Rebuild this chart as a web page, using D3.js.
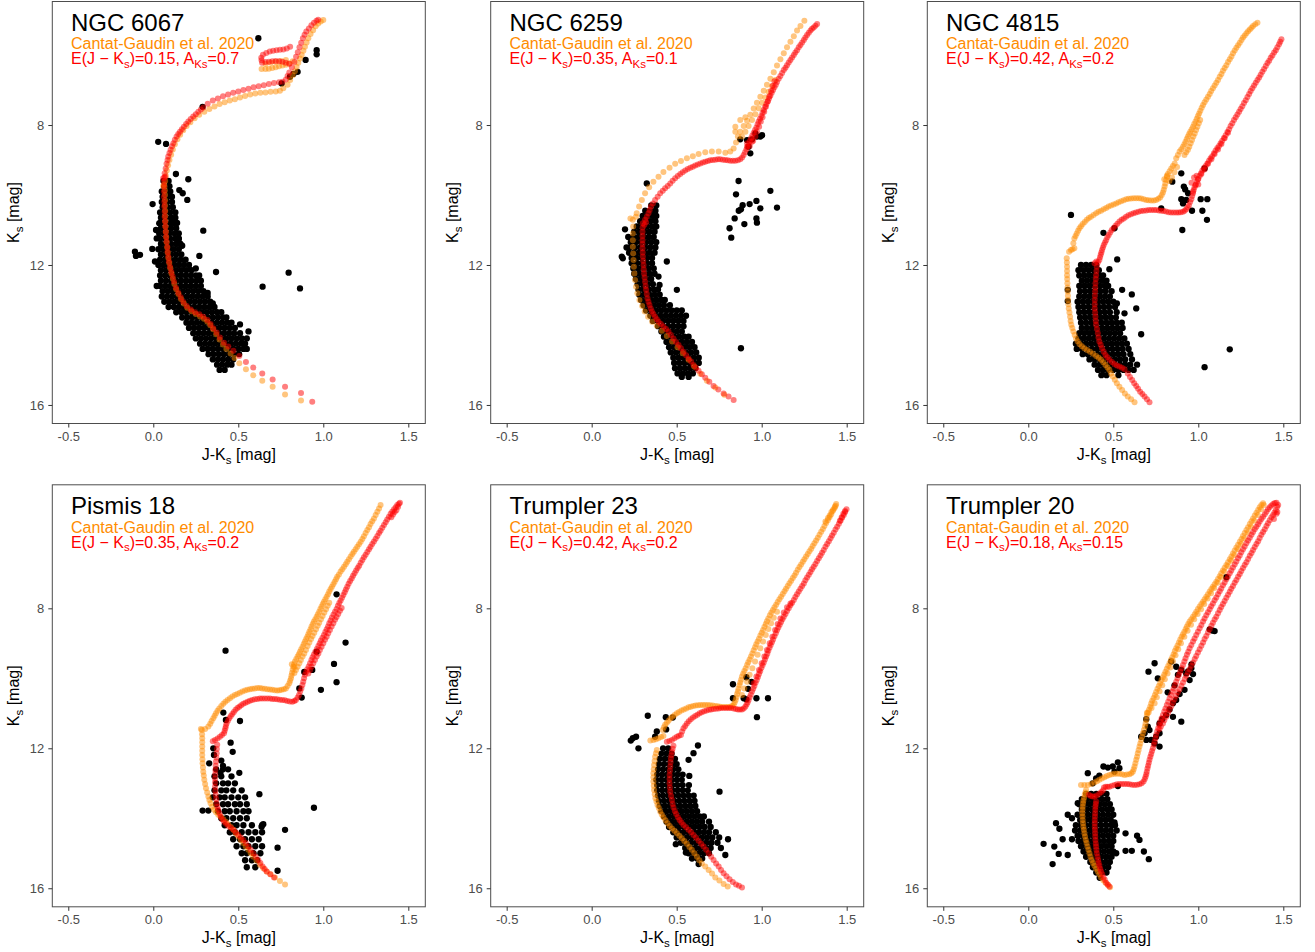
<!DOCTYPE html>
<html><head><meta charset="utf-8">
<script src="https://cdn.jsdelivr.net/npm/d3@7"></script>
<style>body{margin:0;background:#fff}text{font-family:Arial,"Liberation Sans",sans-serif}</style>
</head><body><svg id="c" width="1315" height="952"></svg>
<script>
// ---------- labels ----------
const clusterNames = ["NGC 6067","NGC 6259","NGC 4815","Pismis 18","Trumpler 23","Trumpler 20"];
const ejkValues = ["0.15","0.35","0.42","0.35","0.42","0.18"];
const aksValues = ["0.7","0.1","0.2","0.2","0.2","0.15"];
const xTicks = [-0.5,0,0.5,1,1.5];
const yTicks = [8,12,16];
const refLabel = "Cantat-Gaudin et al. 2020";

// ---------- isochrones (flat: J-Ks, Ks, ...) ----------
const cg6067 = [0.869,15.87,0.775,15.70,0.702,15.48,0.641,15.31,0.588,15.15,0.545,14.98,0.506,14.81,0.478,14.66,0.455,14.53,0.43,14.40,0.41,14.27,0.39,14.13,0.37,13.98,0.352,13.84,0.335,13.72,0.318,13.62,0.298,13.54,0.275,13.47,0.25,13.40,0.225,13.32,0.2,13.22,0.18,13.10,0.163,12.97,0.148,12.83,0.135,12.69,0.124,12.54,0.115,12.39,0.107,12.24,0.1,12.09,0.094,11.94,0.089,11.80,0.085,11.65,0.082,11.50,0.079,11.35,0.076,11.20,0.074,11.05,0.072,10.90,0.071,10.75,0.07,10.60,0.07,10.45,0.069,10.30,0.069,10.15,0.069,10.00,0.068,9.87,0.066,9.76,0.058,9.74,0.064,9.70,0.07,9.6,0.074,9.45,0.08,9.30,0.087,9.15,0.095,9.00,0.105,8.85,0.115,8.70,0.127,8.55,0.142,8.41,0.158,8.28,0.176,8.15,0.196,8.03,0.218,7.92,0.243,7.81,0.27,7.71,0.3,7.62,0.33,7.54,0.36,7.47,0.39,7.40,0.42,7.35,0.45,7.30,0.48,7.26,0.51,7.21,0.54,7.17,0.57,7.13,0.6,7.10,0.63,7.08,0.66,7.07,0.69,7.05,0.72,7.04,0.745,7.02,0.765,6.95,0.79,6.85,0.805,6.71,0.82,6.58,0.833,6.46,0.843,6.34,0.853,6.22,0.863,6.10,0.873,6.00,0.883,5.88,0.892,5.76,0.902,5.64,0.912,5.52,0.925,5.40,0.94,5.29,0.955,5.18,0.97,5.10,0.985,5.04,1.0,5.0,0.637,6.40,0.66,6.40,0.68,6.39,0.70,6.37,0.72,6.35,0.74,6.32,0.76,6.30,0.78,6.28,0.80,6.24,0.82,6.18,0.66,6.25,0.69,6.21,0.72,6.19,0.75,6.17,0.78,6.14];
const fit6067 = [0.935,15.91,0.869,15.66,0.775,15.48,0.702,15.27,0.641,15.10,0.588,14.93,0.545,14.77,0.506,14.60,0.471,14.45,0.441,14.33,0.416,14.22,0.392,14.07,0.373,13.93,0.353,13.81,0.337,13.69,0.318,13.57,0.294,13.48,0.271,13.41,0.245,13.35,0.220,13.27,0.196,13.17,0.176,13.05,0.161,12.92,0.147,12.79,0.133,12.65,0.122,12.48,0.114,12.33,0.106,12.19,0.098,12.05,0.092,11.90,0.088,11.76,0.084,11.62,0.082,11.48,0.078,11.33,0.075,11.19,0.073,11.05,0.071,10.90,0.069,10.76,0.067,10.62,0.067,10.48,0.065,10.33,0.065,10.19,0.063,10.05,0.063,9.90,0.063,9.76,0.063,9.62,0.058,9.52,0.065,9.50,0.07,9.48,0.067,9.38,0.073,9.24,0.078,9.11,0.084,9.00,0.088,8.90,0.095,8.80,0.102,8.71,0.11,8.61,0.118,8.52,0.127,8.42,0.137,8.33,0.147,8.26,0.157,8.19,0.168,8.12,0.180,8.05,0.193,7.97,0.206,7.90,0.22,7.83,0.235,7.76,0.25,7.69,0.265,7.62,0.28,7.56,0.294,7.50,0.32,7.39,0.35,7.30,0.38,7.24,0.41,7.18,0.44,7.13,0.47,7.08,0.50,7.04,0.53,7.00,0.56,6.96,0.59,6.92,0.62,6.89,0.65,6.86,0.68,6.83,0.71,6.80,0.74,6.78,0.76,6.76,0.78,6.70,0.79,6.60,0.80,6.50,0.815,6.35,0.83,6.20,0.84,6.05,0.85,5.92,0.86,5.78,0.87,5.65,0.88,5.52,0.89,5.42,0.90,5.33,0.915,5.24,0.93,5.15,0.945,5.08,0.96,5.02,0.97,4.99,0.645,5.99,0.665,5.94,0.685,5.90,0.705,5.88,0.725,5.86,0.745,5.85,0.765,5.84,0.785,5.81,0.805,5.76,0.64,6.22,0.66,6.20,0.68,6.19,0.70,6.18,0.72,6.17,0.74,6.18,0.76,6.19,0.78,6.22,0.80,6.25,0.635,6.08,0.637,6.15];

const cg6259 = [0.780,15.71,0.727,15.50,0.678,15.31,0.639,15.11,0.603,14.90,0.570,14.71,0.536,14.52,0.505,14.35,0.473,14.19,0.442,14.03,0.413,13.88,0.383,13.74,0.356,13.62,0.332,13.48,0.312,13.33,0.297,13.17,0.281,13.0,0.269,12.81,0.261,12.62,0.255,12.43,0.251,12.24,0.248,12.05,0.246,11.86,0.244,11.67,0.242,11.48,0.242,11.29,0.242,11.10,0.244,10.90,0.242,10.71,0.228,10.67,0.26,10.62,0.265,10.52,0.279,10.33,0.295,10.14,0.314,9.95,0.338,9.78,0.363,9.62,0.393,9.48,0.422,9.34,0.458,9.22,0.491,9.11,0.525,9.03,0.560,8.95,0.595,8.89,0.629,8.83,0.668,8.78,0.707,8.76,0.747,8.76,0.786,8.79,0.815,8.76,0.835,8.67,0.849,8.50,0.860,8.33,0.874,8.19,0.894,8.03,0.914,7.88,0.933,7.71,0.953,7.53,0.972,7.36,0.992,7.19,1.012,7.02,1.031,6.85,1.051,6.68,1.071,6.49,1.090,6.30,1.110,6.12,1.130,5.95,1.149,5.78,1.169,5.62,1.189,5.46,1.208,5.30,1.228,5.17,1.251,5.02,0.845,8.05,0.845,8.19,0.884,8.33,0.904,8.19,0.923,8.03,0.943,7.86,0.963,7.69,0.982,7.52,1.002,7.36,1.022,7.21,1.041,7.05,1.061,6.89,1.081,6.71,0.874,7.86,0.904,7.78];
const fit6259 = [0.835,15.86,0.805,15.76,0.776,15.67,0.745,15.56,0.717,15.46,0.692,15.34,0.668,15.22,0.648,15.12,0.629,15.02,0.614,14.94,0.599,14.86,0.585,14.76,0.570,14.67,0.555,14.58,0.540,14.48,0.525,14.38,0.511,14.29,0.496,14.20,0.481,14.10,0.466,14.00,0.452,13.90,0.437,13.83,0.422,13.76,0.407,13.69,0.393,13.62,0.383,13.55,0.373,13.48,0.363,13.40,0.354,13.33,0.347,13.24,0.340,13.14,0.334,13.05,0.328,12.95,0.324,12.83,0.320,12.71,0.317,12.60,0.314,12.48,0.311,12.36,0.308,12.24,0.306,12.12,0.305,12.0,0.303,11.88,0.301,11.76,0.300,11.64,0.299,11.52,0.299,11.40,0.299,11.29,0.299,11.17,0.299,11.05,0.300,10.93,0.301,10.81,0.31,10.85,0.32,10.78,0.314,10.71,0.324,10.62,0.334,10.52,0.341,10.43,0.348,10.33,0.36,10.24,0.373,10.14,0.388,10.05,0.403,9.95,0.418,9.88,0.432,9.81,0.447,9.74,0.462,9.67,0.476,9.59,0.491,9.52,0.506,9.46,0.521,9.40,0.535,9.35,0.550,9.30,0.565,9.26,0.580,9.22,0.595,9.19,0.609,9.16,0.624,9.13,0.639,9.10,0.654,9.07,0.668,9.05,0.683,9.03,0.697,9.01,0.712,9.0,0.727,8.99,0.742,8.98,0.756,8.98,0.771,8.99,0.786,9.00,0.80,9.01,0.815,9.02,0.83,9.02,0.845,9.02,0.86,9.01,0.874,8.98,0.885,8.93,0.894,8.86,0.902,8.78,0.910,8.70,0.917,8.62,0.923,8.54,0.930,8.46,0.937,8.38,0.945,8.30,0.953,8.22,0.961,8.14,0.969,8.07,0.976,7.98,0.982,7.90,0.990,7.82,0.998,7.74,1.005,7.65,1.012,7.57,1.020,7.48,1.028,7.40,1.036,7.32,1.043,7.24,1.051,7.16,1.059,7.08,1.067,7.0,1.075,6.92,1.083,6.85,1.090,6.77,1.100,6.68,1.110,6.60,1.120,6.51,1.130,6.43,1.140,6.36,1.149,6.29,1.159,6.21,1.169,6.14,1.179,6.07,1.189,6.0,1.198,5.93,1.208,5.86,1.218,5.78,1.228,5.71,1.238,5.64,1.248,5.57,1.257,5.50,1.267,5.43,1.277,5.36,1.287,5.30,1.296,5.25,1.306,5.21,1.316,5.16,1.326,5.11,0.914,8.52,0.943,8.48,0.963,8.33,0.972,8.19,0.914,8.62,0.93,8.60,0.95,8.45,0.985,8.05,0.995,7.90,1.005,7.78,1.015,7.62,1.025,7.48,1.035,7.33,1.045,7.18,1.055,7.03,1.065,6.88,1.075,6.75];

const cg4815 = [0.625,15.92,0.605,15.84,0.585,15.76,0.568,15.67,0.552,15.57,0.536,15.48,0.521,15.38,0.509,15.28,0.497,15.19,0.487,15.10,0.477,15.0,0.466,14.93,0.454,14.86,0.441,14.78,0.428,14.71,0.414,14.65,0.399,14.6,0.381,14.54,0.363,14.48,0.346,14.43,0.330,14.38,0.315,14.32,0.301,14.26,0.29,14.18,0.281,14.10,0.273,14.0,0.265,13.90,0.259,13.80,0.253,13.71,0.249,13.60,0.246,13.48,0.242,13.36,0.238,13.24,0.236,13.12,0.234,13.0,0.233,12.88,0.232,12.76,0.231,12.64,0.230,12.52,0.229,12.40,0.228,12.29,0.228,12.17,0.228,12.05,0.227,11.93,0.226,11.81,0.24,11.62,0.251,11.57,0.271,11.52,0.26,11.55,0.265,11.38,0.271,11.24,0.278,11.17,0.285,11.10,0.293,11.02,0.301,10.95,0.31,10.89,0.320,10.83,0.332,10.77,0.344,10.71,0.356,10.66,0.369,10.62,0.384,10.57,0.399,10.52,0.413,10.48,0.428,10.45,0.443,10.41,0.458,10.37,0.472,10.33,0.487,10.30,0.502,10.27,0.517,10.24,0.531,10.21,0.546,10.18,0.561,10.15,0.576,10.12,0.590,10.11,0.605,10.10,0.62,10.09,0.635,10.09,0.65,10.09,0.664,10.10,0.679,10.12,0.694,10.14,0.708,10.15,0.723,10.16,0.738,10.16,0.752,10.14,0.765,10.11,0.776,10.07,0.785,10.0,0.792,9.93,0.797,9.85,0.802,9.76,0.806,9.67,0.811,9.57,0.816,9.48,0.821,9.40,0.831,9.32,0.841,9.24,0.851,9.17,0.861,9.10,0.870,8.95,0.880,8.86,0.890,8.76,0.900,8.69,0.910,8.62,0.918,8.55,0.925,8.48,0.932,8.40,0.939,8.33,0.946,8.26,0.953,8.19,0.961,8.12,0.969,8.05,0.976,7.97,0.984,7.90,0.991,7.82,0.998,7.74,1.005,7.67,1.012,7.59,1.020,7.51,1.028,7.43,1.037,7.35,1.047,7.27,1.057,7.19,1.067,7.11,1.076,7.03,1.086,6.95,1.096,6.87,1.106,6.79,1.116,6.71,1.126,6.62,1.136,6.54,1.145,6.45,1.155,6.37,1.165,6.29,1.175,6.20,1.185,6.12,1.195,6.04,1.204,5.95,1.214,5.87,1.224,5.79,1.234,5.72,1.244,5.65,1.254,5.57,1.263,5.50,1.273,5.44,1.283,5.38,1.293,5.32,1.303,5.27,1.313,5.22,1.322,5.17,1.335,5.12,1.348,5.08,0.80,9.55,0.815,9.45,0.83,9.6,0.845,9.5,0.86,9.35,0.875,9.2,0.919,8.86,0.929,8.78,0.939,8.71,0.947,8.62,0.955,8.52,0.963,8.43,0.971,8.33,0.979,8.24,0.987,8.14,0.995,8.05,1.003,7.95,1.011,7.86];
const fit4815 = [0.713,15.92,0.698,15.84,0.684,15.76,0.671,15.69,0.658,15.62,0.646,15.54,0.635,15.46,0.623,15.38,0.611,15.29,0.598,15.20,0.585,15.10,0.566,14.98,0.551,14.94,0.536,14.90,0.521,14.87,0.507,14.83,0.492,14.77,0.477,14.71,0.465,14.64,0.454,14.57,0.444,14.48,0.434,14.38,0.426,14.28,0.418,14.19,0.413,14.07,0.409,13.95,0.404,13.83,0.399,13.71,0.397,13.60,0.395,13.48,0.393,13.36,0.391,13.24,0.391,13.12,0.391,13.0,0.392,12.88,0.393,12.76,0.394,12.64,0.395,12.52,0.397,12.40,0.399,12.29,0.401,12.17,0.403,12.05,0.39,11.95,0.40,11.90,0.41,11.92,0.418,11.86,0.422,11.78,0.426,11.71,0.43,11.64,0.434,11.57,0.439,11.50,0.444,11.43,0.451,11.36,0.458,11.29,0.465,11.21,0.473,11.14,0.482,11.07,0.491,11.0,0.502,10.94,0.513,10.88,0.524,10.82,0.536,10.76,0.549,10.71,0.562,10.67,0.575,10.62,0.589,10.58,0.604,10.55,0.619,10.52,0.633,10.50,0.648,10.48,0.663,10.46,0.678,10.45,0.694,10.44,0.709,10.43,0.724,10.43,0.739,10.43,0.753,10.43,0.768,10.44,0.782,10.45,0.796,10.46,0.81,10.47,0.825,10.49,0.84,10.50,0.855,10.50,0.87,10.50,0.884,10.50,0.897,10.49,0.910,10.48,0.920,10.45,0.929,10.41,0.937,10.35,0.945,10.29,0.952,10.20,0.959,10.12,0.964,10.03,0.969,9.95,0.973,9.86,0.978,9.78,0.985,9.70,0.992,9.62,1.0,9.54,1.008,9.46,1.016,9.38,1.024,9.30,1.033,9.23,1.043,9.17,1.053,9.10,1.063,9.02,1.072,8.95,1.082,8.89,1.092,8.81,1.102,8.73,1.112,8.66,1.122,8.60,1.131,8.52,1.141,8.45,1.151,8.37,1.161,8.29,1.171,8.20,1.181,8.12,1.190,8.03,1.200,7.95,1.210,7.86,1.220,7.78,1.230,7.70,1.240,7.62,1.249,7.54,1.259,7.46,1.269,7.37,1.279,7.29,1.289,7.20,1.299,7.11,1.308,7.03,1.318,6.95,1.328,6.87,1.338,6.79,1.348,6.71,1.358,6.64,1.367,6.56,1.377,6.48,1.387,6.40,1.397,6.31,1.407,6.23,1.417,6.16,1.426,6.08,1.436,6.01,1.446,5.93,1.456,5.86,1.465,5.78,1.475,5.69,1.482,5.62,1.489,5.55,0.969,9.90,0.983,9.72,0.998,9.55,1.018,9.40,1.037,9.27,1.057,9.11,1.077,8.98,1.096,8.83,1.116,8.70,1.136,8.54,1.155,8.38,1.175,8.22,0.96,9.65,0.975,9.5,0.99,9.45,1.0,9.7];

const cgP18 = [0.775,15.89,0.745,15.79,0.716,15.69,0.69,15.60,0.667,15.52,0.647,15.43,0.627,15.33,0.607,15.21,0.588,15.10,0.573,15.0,0.559,14.90,0.544,14.81,0.529,14.71,0.515,14.62,0.500,14.52,0.485,14.43,0.471,14.33,0.456,14.25,0.441,14.17,0.427,14.10,0.412,14.03,0.397,13.96,0.382,13.90,0.369,13.83,0.357,13.76,0.346,13.67,0.337,13.57,0.33,13.48,0.324,13.38,0.317,13.26,0.310,13.14,0.305,13.02,0.300,12.90,0.297,12.78,0.294,12.67,0.292,12.55,0.290,12.43,0.289,12.31,0.288,12.19,0.288,12.07,0.288,11.95,0.288,11.83,0.288,11.71,0.287,11.60,0.286,11.48,0.28,11.45,0.305,11.45,0.324,11.38,0.335,11.30,0.343,11.22,0.353,11.14,0.361,11.07,0.369,11.0,0.378,10.93,0.388,10.86,0.40,10.79,0.412,10.73,0.424,10.67,0.437,10.62,0.451,10.57,0.465,10.52,0.48,10.48,0.494,10.45,0.509,10.41,0.524,10.38,0.539,10.35,0.553,10.33,0.568,10.31,0.582,10.30,0.597,10.29,0.612,10.28,0.627,10.28,0.641,10.29,0.656,10.30,0.671,10.31,0.686,10.32,0.700,10.33,0.715,10.34,0.729,10.35,0.742,10.34,0.755,10.33,0.768,10.31,0.780,10.29,0.79,10.22,0.800,10.14,0.805,10.07,0.810,10.0,0.813,9.92,0.816,9.84,0.82,9.75,0.824,9.67,0.828,9.60,0.833,9.52,0.841,9.45,0.849,9.38,0.856,9.31,0.863,9.24,0.87,9.17,0.878,9.10,0.885,9.02,0.892,8.95,0.899,8.88,0.906,8.81,0.912,8.74,0.918,8.67,0.925,8.60,0.931,8.52,0.938,8.45,0.945,8.38,0.953,8.31,0.961,8.24,0.968,8.17,0.976,8.10,0.983,8.02,0.990,7.95,0.997,7.88,1.004,7.81,1.012,7.74,1.020,7.67,1.028,7.60,1.035,7.52,1.043,7.45,1.051,7.38,1.059,7.31,1.067,7.24,1.075,7.17,1.082,7.10,1.092,7.03,1.102,6.95,1.112,6.88,1.122,6.81,1.132,6.74,1.141,6.67,1.151,6.60,1.161,6.52,1.171,6.45,1.180,6.38,1.190,6.31,1.200,6.24,1.210,6.17,1.220,6.10,1.23,6.02,1.239,5.94,1.249,5.85,1.259,5.76,1.269,5.68,1.278,5.59,1.288,5.51,1.298,5.43,1.308,5.33,1.318,5.24,1.328,5.15,1.337,5.05,0.839,9.76,0.849,9.67,0.859,9.57,0.868,9.48,0.878,9.38,0.888,9.29,0.898,9.19,0.908,9.08,0.918,8.98,0.928,8.88,0.937,8.79,0.947,8.70,0.957,8.60,0.967,8.50,0.976,8.41,0.986,8.31,0.996,8.22,1.006,8.12,1.016,8.03,1.026,7.93,1.035,7.84,0.83,9.85,0.815,9.6,0.83,9.68];
const fitP18 = [0.710,15.69,0.688,15.60,0.667,15.52,0.655,15.45,0.643,15.38,0.630,15.28,0.618,15.19,0.603,15.10,0.588,15.0,0.573,14.90,0.559,14.81,0.544,14.71,0.529,14.62,0.515,14.55,0.500,14.48,0.485,14.40,0.471,14.33,0.456,14.27,0.441,14.22,0.428,14.16,0.416,14.10,0.405,14.03,0.396,13.95,0.389,13.86,0.382,13.76,0.377,13.67,0.373,13.57,0.37,13.45,0.367,13.33,0.365,13.21,0.363,13.10,0.363,12.98,0.363,12.86,0.364,12.74,0.365,12.62,0.367,12.50,0.369,12.38,0.371,12.26,0.373,12.14,0.374,12.02,0.376,11.90,0.35,11.80,0.363,11.76,0.378,11.72,0.392,11.67,0.404,11.62,0.416,11.57,0.42,11.50,0.424,11.43,0.427,11.36,0.431,11.29,0.439,11.21,0.447,11.14,0.456,11.08,0.465,11.02,0.474,10.96,0.484,10.90,0.495,10.85,0.506,10.81,0.517,10.77,0.529,10.73,0.542,10.70,0.555,10.67,0.568,10.64,0.582,10.62,0.597,10.60,0.612,10.59,0.627,10.58,0.641,10.58,0.656,10.58,0.671,10.58,0.686,10.58,0.700,10.59,0.715,10.59,0.729,10.60,0.744,10.61,0.759,10.62,0.774,10.63,0.788,10.65,0.803,10.66,0.818,10.67,0.83,10.65,0.839,10.62,0.849,10.55,0.857,10.48,0.864,10.38,0.871,10.29,0.877,10.19,0.882,10.10,0.887,10.0,0.892,9.90,0.899,9.82,0.906,9.74,0.914,9.66,0.922,9.57,0.93,9.48,0.937,9.40,0.945,9.32,0.953,9.24,0.962,9.16,0.971,9.08,0.979,9.0,0.986,8.92,0.995,8.84,1.004,8.76,1.012,8.68,1.020,8.60,1.028,8.52,1.035,8.43,1.043,8.35,1.051,8.26,1.06,8.18,1.069,8.10,1.078,8.02,1.086,7.93,1.094,7.85,1.102,7.78,1.110,7.70,1.118,7.62,1.126,7.54,1.133,7.46,1.141,7.38,1.149,7.30,1.158,7.22,1.167,7.15,1.175,7.07,1.184,7.0,1.193,6.92,1.202,6.85,1.211,6.78,1.220,6.70,1.230,6.62,1.239,6.54,1.249,6.47,1.259,6.39,1.269,6.31,1.278,6.24,1.288,6.16,1.298,6.09,1.308,6.01,1.318,5.93,1.328,5.85,1.337,5.78,1.347,5.70,1.357,5.62,1.367,5.54,1.376,5.46,1.386,5.38,1.396,5.30,1.406,5.23,1.416,5.17,1.426,5.11,1.435,5.05,1.445,5.01,1.451,4.98,0.912,9.86,0.922,9.76,0.931,9.67,0.941,9.57,0.951,9.48,0.961,9.38,0.971,9.29,0.98,9.19,0.990,9.10,1.0,9.0,1.010,8.90,1.02,8.81,1.029,8.71,1.039,8.62,1.049,8.52,1.059,8.43,1.069,8.33,1.078,8.25,1.088,8.16,1.098,8.07,1.108,7.99,1.40,5.40,1.41,5.32,1.42,5.25,1.43,5.20,1.44,5.10];

const cgT23 = [0.800,15.95,0.776,15.88,0.751,15.78,0.727,15.69,0.708,15.58,0.688,15.48,0.668,15.38,0.648,15.29,0.633,15.20,0.619,15.10,0.604,15.0,0.589,14.90,0.575,14.82,0.560,14.73,0.545,14.65,0.530,14.57,0.516,14.50,0.501,14.43,0.487,14.36,0.472,14.29,0.459,14.22,0.446,14.14,0.434,14.06,0.422,13.97,0.412,13.89,0.403,13.81,0.395,13.71,0.387,13.62,0.381,13.52,0.375,13.43,0.371,13.31,0.367,13.19,0.365,13.07,0.363,12.95,0.363,12.83,0.363,12.71,0.365,12.60,0.367,12.48,0.37,12.36,0.373,12.24,0.378,12.14,0.383,12.05,0.363,11.76,0.345,11.78,0.378,11.74,0.393,11.71,0.408,11.68,0.422,11.65,0.418,11.48,0.425,11.40,0.432,11.33,0.442,11.27,0.452,11.21,0.463,11.15,0.475,11.10,0.488,11.05,0.501,11.0,0.514,10.96,0.528,10.92,0.542,10.89,0.556,10.86,0.57,10.83,0.583,10.81,0.597,10.79,0.611,10.78,0.625,10.77,0.639,10.76,0.654,10.76,0.668,10.76,0.683,10.76,0.697,10.77,0.712,10.78,0.727,10.79,0.742,10.80,0.756,10.81,0.771,10.82,0.786,10.82,0.80,10.82,0.815,10.81,0.826,10.79,0.835,10.76,0.841,10.69,0.847,10.62,0.851,10.54,0.855,10.45,0.86,10.37,0.864,10.29,0.869,10.20,0.874,10.12,0.879,10.04,0.884,9.95,0.891,9.87,0.898,9.79,0.906,9.71,0.914,9.62,0.921,9.54,0.929,9.46,0.937,9.38,0.945,9.29,0.953,9.20,0.961,9.11,0.968,9.03,0.976,8.95,0.984,8.87,0.992,8.78,1.0,8.70,1.008,8.62,1.016,8.53,1.024,8.45,1.031,8.37,1.039,8.29,1.048,8.20,1.057,8.12,1.066,8.05,1.075,7.97,1.085,7.90,1.094,7.82,1.104,7.74,1.114,7.67,1.124,7.59,1.134,7.51,1.143,7.44,1.153,7.36,1.163,7.28,1.173,7.21,1.183,7.13,1.193,7.06,1.202,6.98,1.212,6.90,1.222,6.82,1.232,6.75,1.242,6.67,1.251,6.60,1.261,6.52,1.271,6.45,1.281,6.37,1.291,6.30,1.30,6.22,1.310,6.14,1.32,6.06,1.330,5.98,1.34,5.90,1.350,5.81,1.36,5.73,1.369,5.65,1.379,5.56,1.389,5.48,1.399,5.40,1.409,5.31,1.418,5.22,1.428,5.14,1.435,5.07,1.438,5.02,0.884,10.48,0.898,10.29,0.914,10.10,0.929,9.90,0.945,9.71,0.961,9.52,0.976,9.33,0.992,9.14,1.008,8.95,1.024,8.76,1.039,8.59,1.055,8.43,1.071,8.27,1.090,8.10,1.40,5.35,1.41,5.25,1.42,5.18,1.43,5.10,1.39,5.42,1.375,5.52];
const fitT23 = [0.884,15.98,0.866,15.93,0.849,15.89,0.830,15.82,0.811,15.74,0.793,15.66,0.776,15.57,0.761,15.48,0.747,15.38,0.732,15.29,0.717,15.19,0.703,15.10,0.688,15.0,0.673,14.90,0.658,14.81,0.644,14.73,0.629,14.64,0.614,14.56,0.599,14.48,0.585,14.40,0.570,14.33,0.555,14.26,0.540,14.19,0.528,14.12,0.517,14.05,0.507,13.97,0.497,13.88,0.489,13.79,0.481,13.69,0.476,13.59,0.472,13.48,0.467,13.36,0.462,13.24,0.46,13.12,0.458,13.0,0.458,12.88,0.458,12.76,0.46,12.64,0.462,12.52,0.464,12.40,0.466,12.29,0.469,12.20,0.472,12.10,0.476,12.01,0.481,11.93,0.442,11.81,0.457,11.79,0.472,11.76,0.487,11.71,0.501,11.67,0.513,11.64,0.525,11.62,0.532,11.52,0.540,11.43,0.55,11.36,0.560,11.29,0.571,11.23,0.583,11.17,0.596,11.12,0.609,11.08,0.622,11.04,0.635,11.0,0.648,10.97,0.662,10.94,0.676,10.92,0.690,10.90,0.703,10.89,0.717,10.88,0.732,10.87,0.747,10.86,0.761,10.85,0.776,10.85,0.791,10.85,0.806,10.85,0.82,10.85,0.835,10.86,0.848,10.88,0.860,10.89,0.872,10.89,0.884,10.89,0.894,10.86,0.904,10.81,0.911,10.75,0.917,10.69,0.923,10.62,0.929,10.54,0.936,10.46,0.943,10.38,0.95,10.30,0.957,10.22,0.964,10.13,0.971,10.05,0.978,9.96,0.984,9.88,0.991,9.80,0.998,9.71,1.005,9.63,1.012,9.55,1.019,9.46,1.026,9.38,1.033,9.30,1.039,9.21,1.046,9.13,1.053,9.05,1.06,8.97,1.067,8.89,1.075,8.80,1.083,8.71,1.090,8.63,1.098,8.55,1.106,8.47,1.114,8.39,1.122,8.31,1.130,8.24,1.14,8.16,1.149,8.08,1.159,8.0,1.169,7.91,1.179,7.84,1.189,7.76,1.198,7.68,1.208,7.60,1.218,7.52,1.228,7.44,1.238,7.36,1.248,7.29,1.257,7.20,1.267,7.12,1.277,7.04,1.287,6.96,1.296,6.88,1.306,6.81,1.316,6.73,1.326,6.65,1.336,6.57,1.346,6.49,1.355,6.41,1.365,6.33,1.375,6.24,1.385,6.16,1.395,6.08,1.405,6.0,1.414,5.92,1.424,5.84,1.434,5.75,1.444,5.67,1.454,5.58,1.464,5.50,1.473,5.41,1.483,5.33,1.491,5.25,1.499,5.17,0.953,10.14,0.969,9.95,0.984,9.76,1.0,9.57,1.016,9.38,1.031,9.19,1.047,9.0,1.063,8.81,1.079,8.62,1.094,8.45,1.110,8.29,1.130,8.12,1.149,7.97,1.169,7.86,1.47,5.4,1.48,5.3,1.49,5.22,1.46,5.5];

const cgT20 = [0.481,15.97,0.468,15.91,0.454,15.84,0.441,15.77,0.428,15.69,0.418,15.60,0.409,15.52,0.399,15.44,0.389,15.36,0.381,15.28,0.373,15.19,0.366,15.10,0.360,15.0,0.354,14.90,0.348,14.81,0.343,14.71,0.338,14.62,0.334,14.52,0.330,14.43,0.327,14.33,0.324,14.24,0.322,14.14,0.320,14.05,0.319,13.95,0.318,13.86,0.319,13.76,0.320,13.67,0.322,13.58,0.324,13.50,0.328,13.41,0.332,13.33,0.336,13.26,0.340,13.19,0.31,13.05,0.33,13.05,0.350,13.05,0.37,13.02,0.389,12.98,0.404,12.94,0.418,12.90,0.433,12.86,0.448,12.83,0.462,12.79,0.477,12.76,0.492,12.74,0.507,12.73,0.521,12.73,0.536,12.73,0.551,12.74,0.566,12.76,0.58,12.75,0.595,12.74,0.606,12.71,0.615,12.67,0.62,12.60,0.625,12.52,0.63,12.43,0.635,12.33,0.64,12.24,0.644,12.14,0.649,12.05,0.654,11.95,0.659,11.86,0.664,11.76,0.669,11.67,0.674,11.57,0.68,11.48,0.686,11.38,0.69,11.29,0.694,11.19,0.697,11.08,0.699,10.98,0.708,10.98,0.717,10.81,0.723,10.72,0.729,10.64,0.737,10.56,0.745,10.48,0.752,10.39,0.760,10.30,0.768,10.22,0.776,10.14,0.784,10.05,0.792,9.97,0.80,9.89,0.807,9.81,0.815,9.73,0.823,9.65,0.831,9.56,0.839,9.48,0.847,9.40,0.855,9.31,0.862,9.22,0.870,9.14,0.878,9.06,0.886,8.98,0.894,8.89,0.902,8.81,0.91,8.74,0.918,8.67,0.926,8.59,0.933,8.52,0.941,8.45,0.949,8.38,0.959,8.31,0.969,8.24,0.979,8.17,0.988,8.10,0.998,8.02,1.008,7.95,1.018,7.88,1.028,7.81,1.037,7.74,1.047,7.67,1.057,7.60,1.067,7.52,1.077,7.45,1.086,7.38,1.096,7.31,1.106,7.24,1.116,7.16,1.126,7.08,1.135,7.0,1.145,6.92,1.155,6.84,1.165,6.76,1.175,6.68,1.185,6.60,1.195,6.52,1.204,6.43,1.214,6.35,1.224,6.26,1.234,6.18,1.244,6.10,1.254,6.02,1.263,5.93,1.273,5.85,1.283,5.76,1.293,5.68,1.303,5.59,1.313,5.51,1.322,5.43,1.332,5.35,1.342,5.27,1.352,5.19,1.361,5.11,1.371,5.05,1.381,5.0,0.743,10.71,0.756,10.54,0.772,10.37,0.788,10.20,0.803,10.03,0.819,9.86,0.835,9.69,0.851,9.51,0.866,9.34,0.882,9.17,0.898,9.0,0.918,8.81,0.937,8.64,0.957,8.47,0.976,8.31,0.996,8.16,1.016,8.03,1.035,7.88,1.055,7.72,1.075,7.57,1.094,7.42,1.114,7.27,1.134,7.11,1.153,6.95,1.173,6.79,1.193,6.64,1.212,6.48,1.232,6.31,1.251,6.16,1.271,6.0,1.291,5.84,1.310,5.67,1.330,5.50,1.350,5.33,1.369,5.17,1.385,5.05,0.71,10.9,0.725,10.85,0.70,11.0];
const fitT20 = [0.477,15.95,0.467,15.89,0.458,15.84,0.45,15.76,0.442,15.69,0.435,15.60,0.428,15.52,0.423,15.44,0.418,15.36,0.414,15.28,0.411,15.19,0.407,15.10,0.403,15.0,0.401,14.91,0.399,14.81,0.397,14.72,0.395,14.62,0.394,14.52,0.393,14.43,0.392,14.33,0.391,14.24,0.391,14.14,0.391,14.05,0.392,13.95,0.393,13.86,0.394,13.76,0.395,13.67,0.397,13.59,0.399,13.52,0.356,13.33,0.367,13.36,0.379,13.38,0.39,13.38,0.403,13.35,0.418,13.29,0.43,13.25,0.44,13.2,0.445,13.12,0.455,13.10,0.466,13.10,0.477,13.10,0.492,13.07,0.507,13.05,0.521,13.03,0.536,13.02,0.551,13.02,0.566,13.02,0.581,13.02,0.595,13.03,0.61,13.04,0.625,13.05,0.64,13.04,0.654,13.03,0.667,13.0,0.678,12.95,0.685,12.88,0.690,12.81,0.694,12.74,0.697,12.67,0.701,12.58,0.705,12.50,0.709,12.41,0.713,12.33,0.718,12.24,0.723,12.16,0.728,12.08,0.733,12.0,0.738,11.90,0.743,11.81,0.748,11.71,0.752,11.62,0.758,11.52,0.764,11.43,0.77,11.33,0.776,11.24,0.784,11.14,0.792,11.05,0.80,10.95,0.807,10.86,0.815,10.76,0.823,10.67,0.831,10.57,0.839,10.48,0.847,10.38,0.855,10.29,0.862,10.19,0.870,10.10,0.878,10.0,0.886,9.90,0.894,9.81,0.902,9.71,0.91,9.62,0.918,9.52,0.925,9.43,0.933,9.33,0.941,9.24,0.949,9.14,0.959,9.05,0.969,8.95,0.978,8.86,0.988,8.76,0.998,8.67,1.008,8.57,1.018,8.48,1.028,8.38,1.037,8.29,1.047,8.20,1.057,8.11,1.067,8.03,1.076,7.94,1.086,7.86,1.096,7.77,1.106,7.69,1.116,7.60,1.126,7.51,1.135,7.43,1.145,7.34,1.155,7.26,1.165,7.17,1.175,7.09,1.185,7.0,1.194,6.92,1.204,6.83,1.214,6.75,1.224,6.66,1.234,6.57,1.244,6.49,1.253,6.40,1.263,6.31,1.273,6.23,1.283,6.14,1.293,6.06,1.303,5.98,1.313,5.90,1.322,5.82,1.332,5.74,1.342,5.67,1.352,5.60,1.361,5.52,1.371,5.45,1.381,5.38,1.391,5.31,1.401,5.24,1.41,5.17,1.420,5.11,1.43,5.06,1.440,5.02,1.45,4.99,1.460,4.98,0.772,11.45,0.78,11.38,0.792,11.29,0.80,11.20,0.811,11.10,0.821,11.0,0.831,10.90,0.841,10.80,0.851,10.70,0.86,10.60,0.870,10.50,0.88,10.40,0.890,10.31,0.9,10.21,0.910,10.12,0.92,10.02,0.929,9.93,0.939,9.83,0.949,9.74,0.959,9.64,0.969,9.55,0.979,9.45,0.988,9.36,0.998,9.26,1.008,9.17,1.018,9.07,1.028,8.98,1.037,8.88,1.047,8.79,1.057,8.69,1.067,8.60,1.077,8.50,1.086,8.41,1.096,8.32,1.106,8.24,1.116,8.14,1.126,8.05,1.135,7.96,1.145,7.88,1.155,7.79,1.165,7.70,1.175,7.61,1.185,7.53,1.194,7.44,1.204,7.36,1.214,7.27,1.224,7.19,1.234,7.10,1.244,7.02,1.253,6.93,1.263,6.85,1.273,6.76,1.283,6.68,1.293,6.59,1.303,6.50,1.313,6.42,1.322,6.33,1.332,6.25,1.342,6.16,1.352,6.08,1.361,5.99,1.371,5.90,1.381,5.82,1.391,5.74,1.401,5.65,1.41,5.57,1.420,5.48,1.43,5.40,1.440,5.33,1.448,5.26,1.456,5.19,1.464,5.10,1.47,5.05,1.445,5.45,1.46,5.30,1.465,5.25];

// ---------- observed stars: scattered stars (flat) and dense rows [Ks, J-Ks...] ----------
const stars6067 = [0.618,5.52,0.961,5.86,0.961,5.98,0.896,6.14,0.849,6.48,0.824,6.54,0.804,6.62,0.755,6.81,0.290,7.48,0.029,8.48,0.075,8.54,0.133,9.40,0.206,9.55,0.153,9.86,0.173,9.95,0.200,10.14,-0.004,10.26,0.294,11.02,-0.108,11.62,-0.102,11.74,-0.078,11.71,-0.006,11.54,0.271,11.74,0.369,12.20,0.643,12.62,0.796,12.22,0.863,12.67,0.02,11.24,0.016,11.0,0.035,10.81,0.14,10.8,0.15,11.25,0.17,11.45,0.35,13.1,0.32,12.8,0.25,12.1,0.27,12.3,0.01,11.9,0.02,12.6,0.55,14.1,0.56,13.9,0.51,13.7];
const rows6067 = [[9.6,0.06,0.09],[9.75,0.065,0.095],[9.9,0.05,0.08,0.10],[10.05,0.055,0.085,0.11],[10.2,0.05,0.08,0.11],[10.35,0.055,0.085,0.115],[10.5,0.04,0.07,0.10,0.13],[10.65,0.045,0.075,0.105,0.13],[10.8,0.04,0.07,0.10,0.12],[10.95,0.045,0.075,0.105,0.135],[11.1,0.035,0.065,0.095,0.125,0.15],[11.25,0.04,0.07,0.10,0.13,0.15],[11.4,0.045,0.075,0.105,0.135,0.16],[11.55,0.03,0.06,0.09,0.12,0.15],[11.7,0.045,0.075,0.105,0.135,0.165],[11.85,0.04,0.07,0.10,0.13,0.16,0.19],[12.0,0.03,0.06,0.09,0.12,0.15,0.18,0.21],[12.15,0.045,0.075,0.105,0.135,0.165,0.195,0.225],[12.3,0.04,0.07,0.10,0.13,0.16,0.19,0.22,0.25],[12.45,0.045,0.075,0.105,0.135,0.165,0.195,0.225,0.255,0.28],[12.6,0.04,0.07,0.10,0.13,0.16,0.19,0.22,0.25,0.28],[12.75,0.055,0.085,0.115,0.145,0.175,0.205,0.235,0.265,0.295],[12.9,0.05,0.08,0.11,0.14,0.17,0.20,0.23,0.26,0.29,0.32],[13.05,0.065,0.095,0.125,0.155,0.185,0.215,0.245,0.275,0.305,0.335],[13.2,0.09,0.12,0.15,0.18,0.21,0.24,0.27,0.30,0.33,0.36],[13.35,0.135,0.165,0.195,0.225,0.255,0.285,0.315,0.345,0.375,0.40],[13.5,0.17,0.20,0.23,0.26,0.29,0.32,0.35,0.38,0.41,0.43],[13.65,0.195,0.225,0.255,0.285,0.315,0.345,0.375,0.405,0.435,0.46],[13.8,0.21,0.24,0.27,0.30,0.33,0.36,0.39,0.42,0.45,0.48],[13.95,0.235,0.265,0.295,0.325,0.355,0.385,0.415,0.445,0.475,0.51],[14.1,0.25,0.28,0.31,0.34,0.37,0.40,0.43,0.46,0.49,0.52],[14.25,0.275,0.305,0.335,0.365,0.395,0.425,0.455,0.485,0.515,0.54],[14.4,0.29,0.32,0.35,0.38,0.41,0.44,0.47,0.50,0.53,0.55],[14.55,0.325,0.355,0.385,0.415,0.445,0.475,0.505],[14.7,0.35,0.38,0.41,0.44,0.47],[14.85,0.375,0.405,0.435,0.46],[15.0,0.39,0.42]];

const stars6259 = [0.864,9.60,0.849,9.98,1.051,9.88,1.090,10.36,0.888,10.29,0.929,10.26,0.969,10.17,0.878,10.41,0.865,10.45,0.992,10.38,0.841,10.67,0.898,10.83,0.969,10.67,0.972,10.79,0.811,10.95,0.821,11.22,0.878,14.38,0.324,9.67,0.196,10.98,0.177,11.76,0.183,11.81,0.442,11.90,0.393,12.33,0.399,12.57,0.501,12.71,0.874,8.41,0.914,8.43,0.943,8.41,0.972,8.33,0.992,8.33,0.923,8.62,0.933,8.81,0.963,8.24,1.002,8.29,0.215,11.2,0.205,11.5];
const rows6259 = [[10.3,0.35,0.38],[10.45,0.315,0.345,0.375],[10.6,0.30,0.33,0.36,0.38],[10.75,0.285,0.315,0.345,0.375],[10.9,0.265,0.295,0.325,0.355,0.38],[11.05,0.25,0.28,0.31,0.34,0.37],[11.2,0.245,0.275,0.305,0.335,0.365],[11.35,0.23,0.26,0.29,0.32,0.35,0.38],[11.5,0.225,0.255,0.285,0.315,0.345,0.375],[11.65,0.22,0.25,0.28,0.31,0.34,0.37],[11.8,0.235,0.265,0.295,0.325,0.355],[11.95,0.235,0.265,0.295,0.325,0.355],[12.1,0.245,0.275,0.305,0.335,0.365],[12.25,0.25,0.28,0.31,0.34,0.37],[12.4,0.26,0.29,0.32,0.35],[12.55,0.27,0.30,0.33,0.36],[12.7,0.275,0.305,0.335,0.365,0.39],[12.85,0.28,0.31,0.34,0.37,0.40],[13.0,0.29,0.32,0.35,0.38,0.41,0.43],[13.15,0.305,0.335,0.365,0.395,0.425,0.46],[13.3,0.32,0.35,0.38,0.41,0.44,0.47,0.50,0.53],[13.45,0.345,0.375,0.405,0.435,0.465,0.495,0.525,0.555],[13.6,0.36,0.39,0.42,0.45,0.48,0.51,0.54],[13.75,0.39,0.42,0.45,0.48,0.51,0.54],[13.9,0.41,0.44,0.47,0.50,0.53],[14.05,0.425,0.455,0.485,0.515,0.545,0.57],[14.2,0.44,0.47,0.50,0.53,0.56,0.59],[14.35,0.455,0.485,0.515,0.545,0.575,0.605],[14.5,0.465,0.495,0.525,0.555,0.585,0.615],[14.65,0.48,0.51,0.54,0.57,0.60,0.63],[14.8,0.485,0.515,0.545,0.575,0.605,0.63],[14.95,0.49,0.52,0.55,0.58,0.61],[15.1,0.505,0.535,0.565,0.595],[15.2,0.53,0.57]];

const stars4815 = [0.251,10.57,0.442,11.08,0.507,10.95,0.523,11.84,0.477,12.12,0.552,12.71,0.609,12.84,0.521,13.10,0.566,13.38,0.635,13.24,0.664,13.98,1.185,14.41,1.037,14.92,0.232,12.71,0.232,13.03,0.900,9.38,0.847,9.62,0.923,9.84,0.915,9.76,0.900,10.12,0.929,10.14,0.910,10.24,0.963,10.45,1.024,10.45,1.014,10.12,1.053,10.12,1.051,10.71,0.906,11.0,0.782,10.38,1.037,9.24,0.94,9.95];
const rows4815 = [[12.0,0.31,0.34,0.37,0.40],[12.15,0.295,0.325,0.355,0.385,0.415],[12.3,0.30,0.33,0.36,0.39,0.42,0.44],[12.45,0.315,0.345,0.375,0.405,0.435,0.46],[12.6,0.30,0.33,0.36,0.39,0.42,0.45,0.47],[12.75,0.305,0.335,0.365,0.395,0.425,0.455,0.49],[12.9,0.30,0.33,0.36,0.39,0.42,0.45,0.48],[13.05,0.29,0.32,0.35,0.38,0.41,0.44,0.47,0.50],[13.2,0.295,0.325,0.355,0.385,0.415,0.445,0.475,0.51],[13.35,0.30,0.33,0.36,0.39,0.42,0.45,0.48,0.52],[13.5,0.305,0.335,0.365,0.395,0.425,0.455,0.485,0.515],[13.65,0.31,0.34,0.37,0.40,0.43,0.46,0.49,0.52,0.55],[13.8,0.315,0.345,0.375,0.405,0.435,0.465,0.495,0.525,0.555],[13.95,0.30,0.33,0.36,0.39,0.42,0.45,0.48,0.51,0.54],[14.1,0.295,0.325,0.355,0.385,0.415,0.445,0.475,0.505,0.535,0.565],[14.25,0.28,0.31,0.34,0.37,0.40,0.43,0.46,0.49,0.52,0.55,0.58],[14.4,0.285,0.315,0.345,0.375,0.405,0.435,0.465,0.495,0.525,0.555,0.59],[14.55,0.32,0.35,0.38,0.41,0.44,0.47,0.50,0.53,0.56,0.60],[14.7,0.36,0.39,0.42,0.45,0.48,0.51,0.54,0.57,0.61],[14.85,0.39,0.42,0.45,0.48,0.51,0.54,0.57,0.60,0.64],[15.0,0.41,0.44,0.47,0.50,0.53,0.56,0.59,0.62],[15.15,0.43,0.46,0.53]];

const starsP18 = [1.078,7.60,1.131,8.98,0.425,9.21,0.961,9.24,1.063,9.59,0.935,9.76,1.078,10.11,0.888,9.82,0.986,10.33,0.859,10.29,0.873,10.55,0.412,10.98,0.427,11.19,0.510,11.22,0.455,11.84,0.467,12.10,0.353,12.0,0.357,12.19,0.329,12.43,0.506,12.70,0.624,13.31,0.945,13.70,0.290,13.78,0.324,13.78,0.775,14.33,0.731,14.84,0.731,15.50,0.647,14.17,0.637,14.24,0.40,12.35,0.41,12.5,0.395,12.7];
const rowsP18 = [[12.6,0.37,0.41,0.44],[12.8,0.36,0.40,0.46],[13.0,0.37,0.41,0.44,0.48],[13.2,0.36,0.40,0.43,0.47,0.52],[13.4,0.35,0.39,0.42,0.46,0.50,0.54],[13.6,0.37,0.41,0.44,0.48,0.51,0.55],[13.8,0.38,0.42,0.45,0.49,0.53,0.56],[14.0,0.40,0.43,0.47,0.51,0.55],[14.2,0.42,0.46,0.49,0.53,0.58,0.64],[14.4,0.45,0.48,0.52,0.56,0.60,0.64],[14.6,0.47,0.51,0.54,0.58,0.62],[14.8,0.49,0.53,0.56,0.60,0.64],[15.0,0.52,0.55,0.59,0.63],[15.2,0.54,0.58,0.61],[15.4,0.55,0.60]];

const starsT23 = [0.330,11.07,0.436,11.11,0.477,11.12,0.242,11.71,0.261,11.67,0.230,11.78,0.275,12.0,0.373,11.67,0.383,11.52,0.438,11.46,0.625,11.92,0.599,12.14,0.570,12.33,0.574,12.79,0.572,13.05,0.752,13.24,0.802,14.60,0.786,15.05,0.495,14.74,0.554,14.98,0.629,15.31,0.831,10.17,0.831,10.57,0.894,10.57,0.910,10.60,0.969,10.57,1.037,10.57,0.910,9.97,0.972,11.11,0.92,10.3,0.94,10.1];
const rowsT23 = [[12.0,0.42,0.45],[12.15,0.41,0.44,0.47],[12.3,0.40,0.43,0.46,0.49],[12.45,0.395,0.425,0.455,0.485,0.50],[12.6,0.39,0.42,0.45,0.48,0.51],[12.75,0.385,0.415,0.445,0.475,0.505,0.535],[12.9,0.38,0.41,0.44,0.47,0.50,0.53],[13.05,0.385,0.415,0.445,0.475,0.505,0.535],[13.2,0.385,0.415,0.445,0.475,0.505,0.535,0.565],[13.35,0.39,0.42,0.45,0.48,0.51,0.54,0.57,0.60],[13.5,0.395,0.425,0.455,0.485,0.515,0.545,0.575,0.605],[13.65,0.40,0.43,0.46,0.49,0.52,0.55,0.58,0.61],[13.8,0.41,0.44,0.47,0.50,0.53,0.56,0.59,0.62],[13.95,0.425,0.455,0.485,0.515,0.545,0.575,0.605,0.635,0.66],[14.1,0.44,0.47,0.50,0.53,0.56,0.59,0.62,0.65,0.69],[14.25,0.455,0.485,0.515,0.545,0.575,0.605,0.635,0.665,0.70],[14.4,0.48,0.51,0.54,0.57,0.60,0.63,0.66,0.69,0.73],[14.55,0.50,0.53,0.56,0.59,0.62,0.65,0.68,0.71,0.75],[14.7,0.525,0.555,0.585,0.615,0.645,0.675,0.705,0.74],[14.85,0.55,0.58,0.61,0.64,0.67,0.70,0.76],[15.0,0.57,0.60,0.63,0.66,0.69],[15.15,0.59,0.62,0.65]];

const starsT20 = [1.165,7.11,1.067,8.60,1.086,8.64,1.096,8.65,0.743,9.57,0.707,9.81,0.762,10.0,0.900,11.24,0.851,11.10,0.841,9.52,0.870,9.67,0.900,9.76,0.929,9.86,0.959,9.71,0.969,9.88,0.949,10.05,0.919,10.33,0.890,10.45,0.870,10.62,0.851,10.71,0.831,10.89,0.811,11.05,0.788,11.17,0.772,11.29,0.694,11.17,0.703,11.38,0.684,11.57,0.664,11.67,0.694,11.76,0.723,11.76,0.743,11.86,0.772,11.95,0.752,11.67,0.713,11.48,0.772,11.57,0.442,12.52,0.468,12.55,0.497,12.52,0.527,12.40,0.536,12.57,0.507,12.67,0.527,13.08,0.399,12.86,0.379,13.0,0.350,12.71,0.418,12.78,0.090,14.73,0.143,15.31,0.163,14.14,0.183,14.30,0.153,14.81,0.179,15.02,0.232,15.05,0.202,14.60,0.257,14.60,0.232,13.90,0.257,14.0,0.291,13.57,0.572,14.43,0.640,14.50,0.654,14.62,0.572,14.93,0.609,14.93,0.680,14.95,0.709,15.17,0.507,14.12,0.517,15.0,0.96,9.6,0.94,9.8,0.88,9.9,0.86,10.2,0.82,10.4];
const rowsT20 = [[13.3,0.34,0.37,0.40,0.43,0.46],[13.45,0.315,0.345,0.375,0.405,0.435,0.465],[13.6,0.30,0.33,0.36,0.39,0.42,0.45,0.48],[13.75,0.315,0.345,0.375,0.405,0.435,0.465,0.49],[13.9,0.29,0.32,0.35,0.38,0.41,0.44,0.47,0.50],[14.05,0.305,0.335,0.365,0.395,0.425,0.455,0.485],[14.2,0.28,0.31,0.34,0.37,0.40,0.43,0.46,0.49,0.51],[14.35,0.275,0.305,0.335,0.365,0.395,0.425,0.455,0.485,0.52],[14.5,0.29,0.32,0.35,0.38,0.41,0.44,0.47,0.50],[14.65,0.295,0.325,0.355,0.385,0.415,0.445,0.475,0.50],[14.8,0.31,0.34,0.37,0.40,0.43,0.46,0.49],[14.95,0.325,0.355,0.385,0.415,0.445,0.475,0.50],[15.1,0.34,0.37,0.40,0.43,0.46,0.49],[15.25,0.365,0.395,0.425,0.455,0.48],[15.4,0.38,0.41,0.44,0.47],[15.55,0.40,0.43,0.46],[15.7,0.42]];

// ---------- assemble ----------
const cgSets = [cg6067,cg6259,cg4815,cgP18,cgT23,cgT20];
const fitSets = [fit6067,fit6259,fit4815,fitP18,fitT23,fitT20];
const starSets = [stars6067,stars6259,stars4815,starsP18,starsT23,starsT20];
const rowSets = [rows6067,rows6259,rows4815,rowsP18,rowsT23,rowsT20];

function pairs(a){const r=[];for(let i=0;i+1<a.length;i+=2)r.push([a[i],a[i+1]]);return r;}
function rowPts(rows){const r=[];rows.forEach(row=>{for(let i=1;i<row.length;i++)r.push([row[i],row[0]]);});return r;}

const svg = d3.select("#c");
svg.append("rect").attr("width",1315).attr("height",952).attr("fill","#fff");

const colLeft=[52.3,490.7,927.3], rowTop=[1.5,484.8];
const W=373, H=422;
const x = d3.scaleLinear().domain([-0.594,1.6]).range([0,W]);
const y = d3.scaleLinear().domain([4.47,16.53]).range([0,H]);
const FONT="Arial, 'Liberation Sans', sans-serif";

clusterNames.forEach((name,i)=>{
  const L=colLeft[i%3], T=rowTop[Math.floor(i/3)];
  const g=svg.append("g").attr("transform",`translate(${L},${T})`);
  const cid="clip"+i;
  g.append("clipPath").attr("id",cid).append("rect").attr("width",W).attr("height",H);
  const pg=g.append("g").attr("clip-path",`url(#${cid})`);

  const stars = pairs(starSets[i]).concat(rowPts(rowSets[i]));
  pg.selectAll("circle.s").data(stars).join("circle").attr("class","s")
    .attr("cx",d=>x(d[0])).attr("cy",d=>y(d[1])).attr("r",3.15).attr("fill","#000");
  pg.selectAll("circle.o").data(pairs(cgSets[i])).join("circle").attr("class","o")
    .attr("cx",d=>x(d[0])).attr("cy",d=>y(d[1])).attr("r",3).attr("fill","#FF8C00").attr("fill-opacity",0.5);
  pg.selectAll("circle.r").data(pairs(fitSets[i])).join("circle").attr("class","r")
    .attr("cx",d=>x(d[0])).attr("cy",d=>y(d[1])).attr("r",3).attr("fill","#FF0000").attr("fill-opacity",0.5);

  g.append("rect").attr("width",W).attr("height",H).attr("fill","none").attr("stroke","#4d4d4d").attr("stroke-width",1);

  const xa=g.append("g").attr("transform",`translate(0,${H})`)
    .call(d3.axisBottom(x).tickValues(xTicks).tickSize(4).tickPadding(4).tickFormat(d=>d.toFixed(1)));
  const ya=g.append("g").call(d3.axisLeft(y).tickValues(yTicks).tickSize(4).tickPadding(4).tickFormat(d=>String(d)));
  [xa,ya].forEach(a=>{a.select(".domain").remove();
    a.selectAll(".tick line").attr("stroke","#333");
    a.selectAll(".tick text").attr("fill","#4d4d4d").style("font-size","13px").style("font-family",FONT);});

  const xt=g.append("text").attr("x",W/2).attr("y",H+36).attr("text-anchor","middle").style("font-size","16px").attr("fill","#000");
  xt.append("tspan").text("J-K");
  xt.append("tspan").attr("dy",4).style("font-size","11.5px").text("s");
  xt.append("tspan").attr("dy",-4).text(" [mag]");
  const yt=g.append("text").attr("transform",`translate(-33,${H/2}) rotate(-90)`).attr("text-anchor","middle").style("font-size","16px").attr("fill","#000");
  yt.append("tspan").text("K");
  yt.append("tspan").attr("dy",4).style("font-size","11.5px").text("s");
  yt.append("tspan").attr("dy",-4).text(" [mag]");

  g.append("text").attr("x",18.7).attr("y",29.2).style("font-size","24px").attr("fill","#000").text(name);
  g.append("text").attr("x",18.7).attr("y",47.8).style("font-size","16px").attr("fill","#FF8C00").text(refLabel);
  const rt=g.append("text").attr("x",18.7).attr("y",62.8).style("font-size","16px").attr("fill","#FF0000");
  rt.append("tspan").text("E(J \u2212 K");
  rt.append("tspan").attr("dy",3.5).style("font-size","11.5px").text("s");
  rt.append("tspan").attr("dy",-3.5).text(`)=${ejkValues[i]}, A`);
  rt.append("tspan").attr("dy",3.5).style("font-size","11.5px").text("Ks");
  rt.append("tspan").attr("dy",-3.5).text(`=${aksValues[i]}`);
});
</script></body></html>
